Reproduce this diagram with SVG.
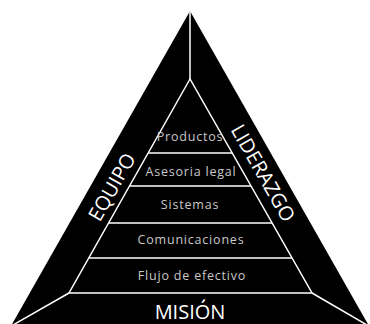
<svg xmlns="http://www.w3.org/2000/svg" width="370" height="324" viewBox="0 0 370 324">
  <defs>
    <linearGradient id="inner" gradientUnits="userSpaceOnUse" x1="0" y1="79" x2="0" y2="293">
      <stop offset="0" stop-color="#262626"/>
      <stop offset="0.3" stop-color="#606060"/>
      <stop offset="0.5" stop-color="#4c4c4c"/>
      <stop offset="0.66" stop-color="#2c2c2c"/>
      <stop offset="0.8" stop-color="#0e0e0e"/>
      <stop offset="1" stop-color="#000"/>
    </linearGradient>
    <style>
      .wl { stroke: #fff; stroke-width: 1.5; fill: none; }
      .big { font-family: "Open Sans", "Liberation Sans", sans-serif; font-size: 20px; fill: #fff; text-anchor: middle; }
      .band { font-family: "Open Sans", "Liberation Sans", sans-serif; font-size: 12.5px; fill: #c8c8c8; text-anchor: middle; letter-spacing: 0.8px; }
    </style>
  </defs>
  <rect width="370" height="324" fill="#fff"/>
  <g id="outer">
    <polygon points="190,11 11,326 369,326" fill="#000"/>
  </g>
  <g id="connectors">
    <line class="wl" x1="190" y1="11" x2="190" y2="79" stroke-width="1"/>
    <line class="wl" x1="69" y1="293" x2="13" y2="325"/>
    <line class="wl" x1="312" y1="293" x2="367" y2="325"/>
  </g>
  <g id="pyramid">
    <polygon points="190,79 69,293 312,293" fill="url(#inner)" class="wl"/>
    <line class="wl" x1="148.2" y1="153" x2="232.2" y2="153"/>
    <line class="wl" x1="129.5" y1="186" x2="251" y2="186"/>
    <line class="wl" x1="108.6" y1="223" x2="272.1" y2="223"/>
    <line class="wl" x1="88.8" y1="258" x2="292" y2="258"/>
  </g>
  <g id="band-productos"><text class="band" x="190" y="141">Productos</text></g>
  <g id="band-asesoria"><text class="band" x="191" y="176">Asesoria legal</text></g>
  <g id="band-sistemas"><text class="band" x="190" y="209">Sistemas</text></g>
  <g id="band-comunicaciones"><text class="band" x="191" y="244">Comunicaciones</text></g>
  <g id="band-flujo"><text class="band" x="192" y="280">Flujo de efectivo</text></g>
  <g id="equipo"><text class="big" transform="translate(112,187) rotate(-60.4)" y="7">EQUIPO</text></g>
  <g id="liderazgo"><text class="big" transform="translate(263,173) rotate(60.4)" y="7">LIDERAZGO</text></g>
  <g id="mision"><text class="big" x="190" y="319">MISIÓN</text></g>
</svg>
